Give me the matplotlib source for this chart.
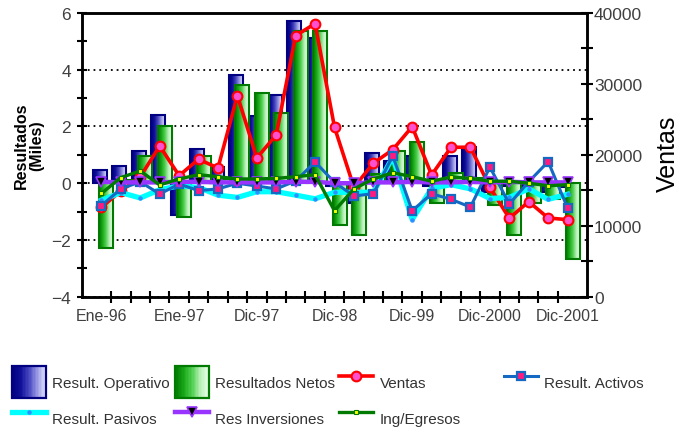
import matplotlib
matplotlib.use('Agg')
import matplotlib.pyplot as plt
import numpy as np
from matplotlib.patches import Rectangle
from matplotlib.lines import Line2D
from matplotlib.legend_handler import HandlerBase
from matplotlib.colors import LinearSegmentedColormap

# ---------------- data ----------------
periods = list(range(1, 26))
tick_labels = ['Ene-96', 'Ene-97', 'Dic-97', 'Dic-98', 'Dic-99', 'Dic-2000', 'Dic-2001']
tick_label_periods = [1, 5, 9, 13, 17, 21, 25]

result_operativo = [0.45, 0.6, 1.15, 2.4, -1.13, 1.22, 0.58, 3.82, 2.36, 3.12, 5.73, 5.11, -0.1,
                    -0.7, 1.08, 0.8, 0.95, -0.1, 0.95, 1.28, -0.3, -0.1, -0.1, -0.3, -0.15]
resultados_netos = [-2.3, 0.1, 0.95, 2.0, -1.18, 0.95, 0.15, 3.47, 3.18, 2.47, 5.38, 5.38, -1.47,
                    -1.83, 0.32, 1.15, 1.44, -0.7, 0.37, 0.2, -0.77, -1.83, -0.7, -0.55, -2.67]
ventas = [12610, 14900, 16900, 21250, 17070, 19380, 18150, 28350, 19560, 22810, 36810, 38500, 23890,
          15430, 18820, 20730, 23980, 17160, 21070, 21070, 15430, 11060, 13400, 11100, 10860]
result_activos = [-0.79, -0.2, 0.05, -0.38, -0.03, -0.26, -0.2, 0.0, -0.1, -0.2, 0.08, 0.75, 0.03,
                  -0.45, -0.37, 0.96, -0.97, -0.37, -0.57, -0.84, 0.57, -0.73, 0.05, 0.76, -0.87]
result_pasivos = [-0.6, -0.33, -0.52, -0.23, -0.09, -0.15, -0.42, -0.5, -0.3, -0.3, -0.42, -0.55, -0.32,
                  -0.32, -0.32, 0.92, -1.28, -0.18, -0.05, -0.2, -0.54, -0.5, -0.2, -0.57, -0.39]
res_inversiones = [0.05, 0.03, 0.03, 0.03, 0.05, 0.05, 0.03, 0.03, 0.03, 0.03, 0.05, 0.05, 0.0,
                   0.0, 0.03, 0.03, 0.05, 0.03, 0.03, 0.05, 0.03, 0.05, 0.03, 0.03, 0.03]
ing_egresos = [-0.36, 0.2, 0.43, -0.06, 0.15, 0.3, 0.23, 0.15, 0.15, 0.17, 0.23, 0.3, -0.97,
               -0.2, 0.15, 0.37, 0.23, 0.07, 0.22, 0.17, 0.07, 0.07, 0.0, -0.09, -0.05]

# ---------------- style ----------------
FONT = ['Liberation Sans', 'DejaVu Sans']
TXT = '#404040'
blue_stops = ['#000080', '#10109a', '#4848c0', '#9898e4', '#e8e8ff']
green_stops = ['#007a00', '#1aa81a', '#50d050', '#b8f0b8', '#f0fff0']
blue_cmap = LinearSegmentedColormap.from_list('b', blue_stops)
green_cmap = LinearSegmentedColormap.from_list('g', green_stops)
BW = 0.72
BOFF = -0.07
GOFF = 0.26

fig = plt.figure(figsize=(6.94, 4.31), dpi=100)
L, R, T, B = 82, 587, 14, 297.7
W, H = 694, 431
axL = fig.add_axes([L / W, 1 - B / H, (R - L) / W, (B - T) / H])
axL.set_zorder(1)
axL.patch.set_visible(False)

x = np.array(periods, dtype=float)

grad = np.linspace(0, 1, 64)
blue_img = blue_cmap(grad)[None, :, :3]
green_img = green_cmap(grad)[None, :, :3]

for xi, v in zip(x + BOFF, result_operativo):
    axL.imshow(blue_img, extent=(xi - BW / 2, xi + BW / 2, min(0, v), max(0, v)),
               aspect='auto', interpolation='bilinear', zorder=1.0)
axL.bar(x + BOFF, result_operativo, width=BW, fill=False, edgecolor='#000080', lw=1.5, zorder=1.1)
for xi, v in zip(x + GOFF, resultados_netos):
    axL.imshow(green_img, extent=(xi - BW / 2, xi + BW / 2, min(0, v), max(0, v)),
               aspect='auto', interpolation='bilinear', zorder=1.2)
axL.bar(x + GOFF, resultados_netos, width=BW, fill=False, edgecolor='#007a00', lw=1.5, zorder=1.3)

axL.set_xlim(0, 26)
axL.set_ylim(-4, 6)
axL.set_yticks(np.arange(-4, 7, 2))
axL.set_yticks(np.arange(-4, 7, 1), minor=True)
axL.yaxis.grid(True, which='major', color='black', linestyle=(0, (1, 2.2)), lw=1.3, zorder=0.5)
axL.set_axisbelow(True)
axL.set_xticks(tick_label_periods)
axL.set_xticklabels(tick_labels)
axL.set_xticks(np.arange(1.5, 25, 1), minor=True)
axL.tick_params(axis='x', which='major', length=0, pad=8, labelsize=11.5, labelcolor=TXT)
axL.tick_params(axis='x', which='minor', direction='inout', length=8, width=1.5)
axL.tick_params(axis='y', which='both', direction='inout', length=7.5, width=1.5,
                labelsize=12.5, labelcolor=TXT, pad=4.2)
for lab in axL.get_xticklabels() + axL.get_yticklabels():
    lab.set_family(FONT)
for s in axL.spines.values():
    s.set_linewidth(1.8)

# Ventas (right axis)
axV = axL.twinx()
axV.set_zorder(2)
axV.plot(x, ventas, color='#ff0000', lw=2.6, marker='o', ms=7, mfc='#ff50d0', mec='#ff0000', mew=1.5,
         zorder=3)
axV.set_ylim(0, 40000)
axV.set_yticks(np.arange(0, 40001, 10000))
axV.set_yticks(np.arange(0, 40001, 5000), minor=True)
axV.tick_params(axis='y', which='both', direction='inout', length=8.5, width=1.5,
                labelsize=12.5, labelcolor=TXT, pad=0.8)
for lab in axV.get_yticklabels():
    lab.set_family(FONT)
for s in axV.spines.values():
    s.set_linewidth(1.8)

# other lines (left scale, above Ventas)
axT = fig.add_axes(axL.get_position(), sharex=axL, sharey=axL)
axT.set_zorder(3)
axT.set_axis_off()
axT.patch.set_visible(False)
axT.plot(x, result_pasivos, color='#00ffff', lw=3.8, marker='o', ms=2.2, mfc='#2f8fff', mec='#2f8fff',
         zorder=3)
axT.plot(x, result_activos, color='#1469c2', lw=2.2, marker='s', ms=5.5, mfc='#ff1a80', mec='#1469c2',
         mew=1.6, zorder=4)
axT.plot(x, res_inversiones, color='#9933ff', lw=3.2, marker='v', ms=6.5, mfc='black', mec='#9933ff',
         mew=1.2, zorder=5)
axT.plot(x, ing_egresos, color='#007a00', lw=2.4, marker='s', ms=3.2, mfc='#ffff00', mec='#007a00',
         mew=0.8, zorder=6)
axT.set_xlim(0, 26)
axT.set_ylim(-4, 6)

# axis titles
fig.text(29 / W, 1 - 146 / H, 'Resultados\n(Miles)', rotation=90, ha='center', va='center',
         fontsize=11.5, fontweight='bold', family=FONT, color='black', linespacing=1.0)
fig.text(668 / W, 1 - 154 / H, 'Ventas', rotation=90, ha='center', va='center',
         fontsize=18, family=FONT, color='black')


# ---------------- legend ----------------
class GradHandler(HandlerBase):
    def __init__(self, cmap, edge):
        super().__init__()
        self.cmap = cmap
        self.edge = edge

    def create_artists(self, legend, orig_handle, xdescent, ydescent, width, height, fontsize, trans):
        n = 24
        arts = []
        for i in range(n):
            c = self.cmap(i / (n - 1))
            arts.append(Rectangle((-xdescent + width * i / n, -ydescent), width / n * 1.1, height,
                                  facecolor=c, edgecolor='none', transform=trans))
        arts.append(Rectangle((-xdescent, -ydescent), width, height, fill=False,
                              edgecolor=self.edge, lw=1.6, transform=trans))
        return arts


h_op = Rectangle((0, 0), 1, 1)
h_ne = Rectangle((0, 0), 1, 1)
h_ve = Line2D([], [], color='#ff0000', lw=2.6, marker='o', ms=7, mfc='#ff50d0', mec='#ff0000', mew=1.5)
h_ac = Line2D([], [], color='#1469c2', lw=2.2, marker='s', ms=5.5, mfc='#ff1a80', mec='#1469c2', mew=1.6)
h_pa = Line2D([], [], color='#00ffff', lw=3.8, marker='o', ms=2.2, mfc='#2f8fff', mec='#2f8fff')
h_in = Line2D([], [], color='#9933ff', lw=3.2, marker='v', ms=6.5, mfc='black', mec='#9933ff', mew=1.2)
h_ie = Line2D([], [], color='#007a00', lw=2.4, marker='s', ms=3.2, mfc='#ffff00', mec='#007a00', mew=0.8)
hmap = {h_op: GradHandler(blue_cmap, '#000080'), h_ne: GradHandler(green_cmap, '#007a00')}

columns = [([h_op, h_pa], ['Result. Operativo', 'Result. Pasivos'], 12),
           ([h_ne, h_in], ['Resultados Netos', 'Res Inversiones'], 175),
           ([h_ve, h_ie], ['Ventas', 'Ing/Egresos'], 339),
           ([h_ac], ['Result. Activos'], 504)]
for hs, ls, xpx in columns:
    leg = fig.legend(hs, ls, loc='upper left', bbox_to_anchor=(xpx / W, 1 - 367 / H),
                     bbox_transform=fig.transFigure, frameon=False, borderpad=0, borderaxespad=0,
                     handlelength=2.25, handleheight=2.85, handletextpad=0.4, labelspacing=0.26,
                     numpoints=1, handler_map=hmap,
                     prop={'family': FONT, 'size': 11})
    for t in leg.get_texts():
        t.set_color('#333333')

fig.savefig('out.png', dpi=100)
